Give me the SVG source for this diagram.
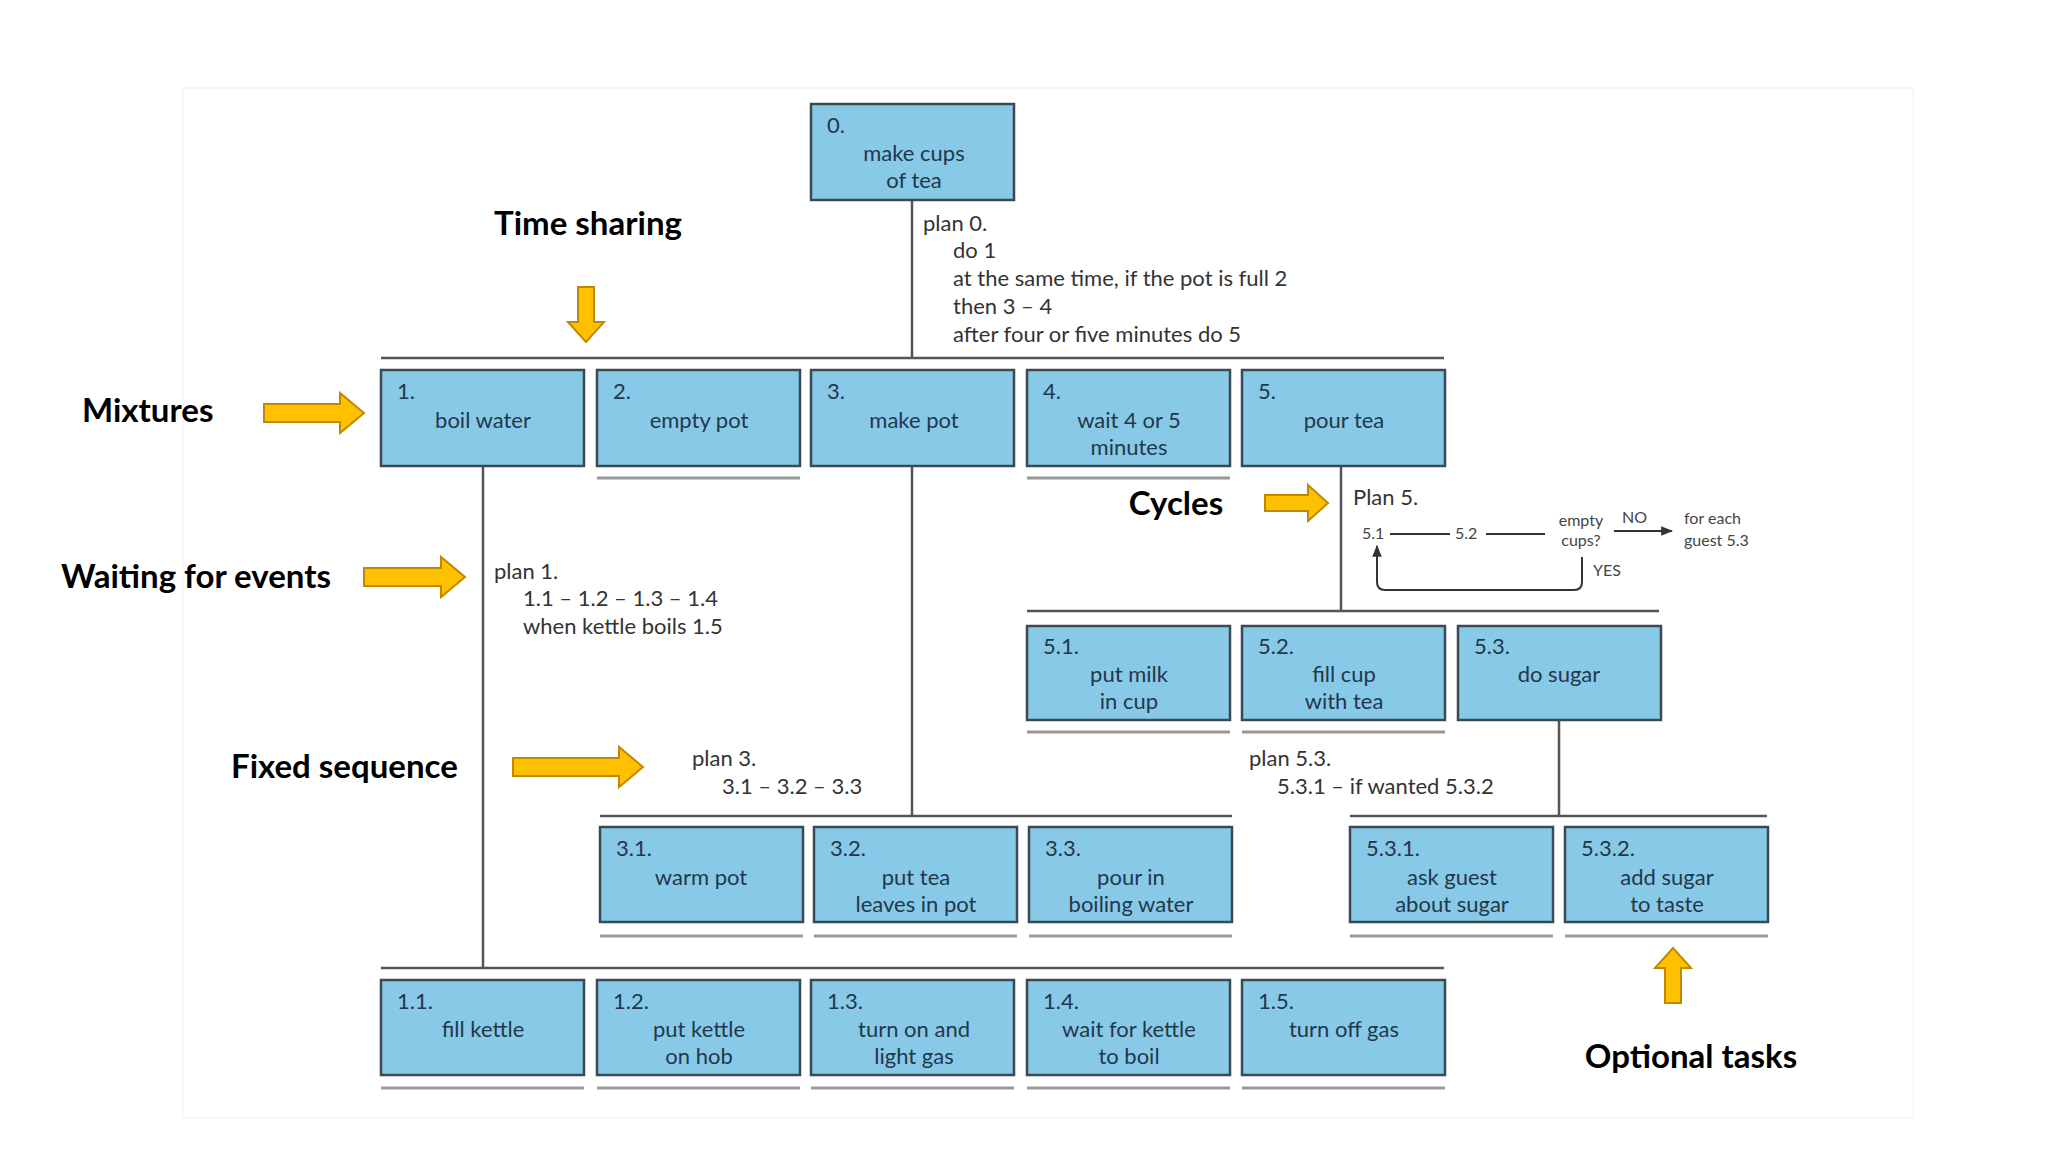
<svg xmlns="http://www.w3.org/2000/svg" width="2048" height="1152" viewBox="0 0 2048 1152">
<defs>
<style>
.b rect{fill:#88c9e8;stroke:#3a4a55;stroke-width:2.5}
.b text{font-family:Lato,"Open Sans",sans-serif;font-size:22px;fill:#22384a}
.c{text-anchor:middle}
.ln{stroke:#555;stroke-width:2.5;fill:none}
.ul{stroke:#999;stroke-width:3}
.p{font-family:Lato,"Open Sans",sans-serif;font-size:22px;fill:#333}
.s{font-family:Lato,"Open Sans",sans-serif;font-size:16px;fill:#444}
.lab{font-family:Lato,"Open Sans",sans-serif;font-weight:bold;font-size:33px;fill:#000}
.ar{fill:#FFC000;stroke:#C08a00;stroke-width:2}
</style>
<marker id="m" viewBox="0 0 10 10" refX="9" refY="5" markerWidth="6" markerHeight="6" orient="auto"><path d="M0,1 L10,5 L0,9z" fill="#333"/></marker>
</defs>
<rect width="2048" height="1152" fill="#fff"/>
<rect x="183" y="88" width="1730" height="1030" fill="#fff" stroke="#f0f0f0"/>
<g id="connectors">
<path class="ln" d="M912 200V358M381 358H1444M483 466V968M912 466V816M1341 466V611M1027 611H1659M600 816H1232M1559 720V816M1350 816H1767M381 968H1444"/>
<path class="ul" d="M597 478H800M1027 478H1230M1027 732H1230M1242 732H1445M600 936H803M814 936H1017M1029 936H1232M1350 936H1553M1565 936H1768M381 1088H584M597 1088H800M811 1088H1014M1027 1088H1230M1242 1088H1445"/>
</g>
<g id="n0" class="b"><rect x="811" y="104" width="203" height="96"/><text x="827" y="133">0.</text><text class="c" x="914" y="161">make cups</text><text class="c" x="914" y="188">of tea</text></g>
<g id="n1" class="b"><rect x="381" y="370" width="203" height="96"/><text x="397" y="399">1.</text><text class="c" x="483" y="428">boil water</text></g>
<g id="n2" class="b"><rect x="597" y="370" width="203" height="96"/><text x="613" y="399">2.</text><text class="c" x="699" y="428">empty pot</text></g>
<g id="n3" class="b"><rect x="811" y="370" width="203" height="96"/><text x="827" y="399">3.</text><text class="c" x="914" y="428">make pot</text></g>
<g id="n4" class="b"><rect x="1027" y="370" width="203" height="96"/><text x="1043" y="399">4.</text><text class="c" x="1129" y="428">wait 4 or 5</text><text class="c" x="1129" y="455">minutes</text></g>
<g id="n5" class="b"><rect x="1242" y="370" width="203" height="96"/><text x="1258" y="399">5.</text><text class="c" x="1344" y="428">pour tea</text></g>
<g id="n51" class="b"><rect x="1027" y="626" width="203" height="94"/><text x="1043" y="654">5.1.</text><text class="c" x="1129" y="682">put milk</text><text class="c" x="1129" y="709">in cup</text></g>
<g id="n52" class="b"><rect x="1242" y="626" width="203" height="94"/><text x="1258" y="654">5.2.</text><text class="c" x="1344" y="682">fill cup</text><text class="c" x="1344" y="709">with tea</text></g>
<g id="n53" class="b"><rect x="1458" y="626" width="203" height="94"/><text x="1474" y="654">5.3.</text><text class="c" x="1559" y="682">do sugar</text></g>
<g id="n31" class="b"><rect x="600" y="827" width="203" height="95"/><text x="616" y="856">3.1.</text><text class="c" x="701" y="885">warm pot</text></g>
<g id="n32" class="b"><rect x="814" y="827" width="203" height="95"/><text x="830" y="856">3.2.</text><text class="c" x="916" y="885">put tea</text><text class="c" x="916" y="912">leaves in pot</text></g>
<g id="n33" class="b"><rect x="1029" y="827" width="203" height="95"/><text x="1045" y="856">3.3.</text><text class="c" x="1131" y="885">pour in</text><text class="c" x="1131" y="912">boiling water</text></g>
<g id="n531" class="b"><rect x="1350" y="827" width="203" height="95"/><text x="1366" y="856">5.3.1.</text><text class="c" x="1452" y="885">ask guest</text><text class="c" x="1452" y="912">about sugar</text></g>
<g id="n532" class="b"><rect x="1565" y="827" width="203" height="95"/><text x="1581" y="856">5.3.2.</text><text class="c" x="1667" y="885">add sugar</text><text class="c" x="1667" y="912">to taste</text></g>
<g id="n11" class="b"><rect x="381" y="980" width="203" height="95"/><text x="397" y="1009">1.1.</text><text class="c" x="483" y="1037">fill kettle</text></g>
<g id="n12" class="b"><rect x="597" y="980" width="203" height="95"/><text x="613" y="1009">1.2.</text><text class="c" x="699" y="1037">put kettle</text><text class="c" x="699" y="1064">on hob</text></g>
<g id="n13" class="b"><rect x="811" y="980" width="203" height="95"/><text x="827" y="1009">1.3.</text><text class="c" x="914" y="1037">turn on and</text><text class="c" x="914" y="1064">light gas</text></g>
<g id="n14" class="b"><rect x="1027" y="980" width="203" height="95"/><text x="1043" y="1009">1.4.</text><text class="c" x="1129" y="1037">wait for kettle</text><text class="c" x="1129" y="1064">to boil</text></g>
<g id="n15" class="b"><rect x="1242" y="980" width="203" height="95"/><text x="1258" y="1009">1.5.</text><text class="c" x="1344" y="1037">turn off gas</text></g>
<g id="plans">
<text class="p" x="923" y="231">plan 0.</text>
<text class="p" x="953" y="258">do 1</text>
<text class="p" x="953" y="286">at the same time, if the pot is full 2</text>
<text class="p" x="953" y="314">then 3 – 4</text>
<text class="p" x="953" y="342">after four or five minutes do 5</text>
<text class="p" x="494" y="579">plan 1.</text>
<text class="p" x="523" y="606">1.1 – 1.2 – 1.3 – 1.4</text>
<text class="p" x="523" y="634">when kettle boils 1.5</text>
<text class="p" x="692" y="766">plan 3.</text>
<text class="p" x="722" y="794">3.1 – 3.2 – 3.3</text>
<text class="p" x="1249" y="766">plan 5.3.</text>
<text class="p" x="1277" y="794">5.3.1 – if wanted 5.3.2</text>
<text class="p" x="1353" y="505">Plan 5.</text>
<text class="s" x="1362" y="539">5.1</text>
<text class="s" x="1455" y="539">5.2</text>
<text class="s c" x="1581" y="526">empty</text>
<text class="s c" x="1581" y="546">cups?</text>
<text class="s" x="1622" y="523">NO</text>
<text class="s" x="1684" y="524">for each</text>
<text class="s" x="1684" y="546">guest 5.3</text>
<text class="s" x="1593" y="576">YES</text>
<path d="M1390 534H1450M1486 534H1545M1614 531H1672M1582 557V582Q1582 590 1574 590H1385Q1377 590 1377 582V546" stroke="#333" stroke-width="2" fill="none" marker-end="url(#m)"/>
<path d="M1390 534H1450M1486 534H1545M1614 531H1672" stroke="#333" stroke-width="2" fill="none" marker-end="url(#m)"/>
</g>
<g id="labels">
<text class="lab c" x="588" y="235">Time sharing</text>
<text class="lab" x="82" y="422">Mixtures</text>
<text class="lab" x="61" y="588">Waiting for events</text>
<text class="lab" x="231" y="778">Fixed sequence</text>
<text class="lab c" x="1176" y="515">Cycles</text>
<text class="lab c" x="1691" y="1068">Optional tasks</text>
<path class="ar" d="M578 287H594V322H604L586 342L568 322H578Z"/>
<path class="ar" d="M264 404H340V393L364 413L340 433V422H264Z"/>
<path class="ar" d="M364 568H441V557L465 577L441 597V586H364Z"/>
<path class="ar" d="M513 758H619V747L643 767L619 787V776H513Z"/>
<path class="ar" d="M1265 495H1308V485L1328 503L1308 521V511H1265Z"/>
<path class="ar" d="M1665 1003V968H1655L1673 948L1691 968H1681V1003Z"/>
</g>
</svg>
